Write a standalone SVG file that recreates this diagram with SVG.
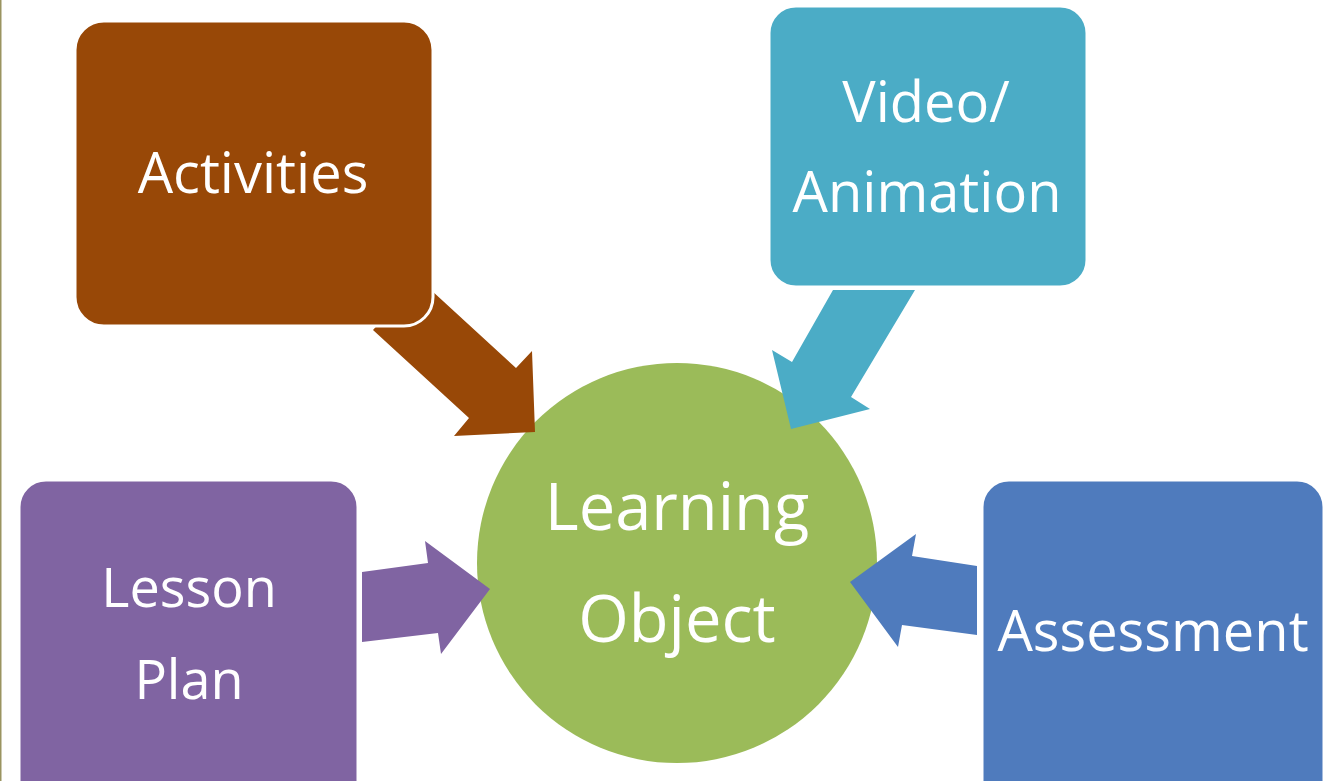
<svg xmlns="http://www.w3.org/2000/svg" width="1332" height="781" viewBox="0 0 1332 781">
<style>
.lbl{font-family:"Open Sans","Liberation Sans",sans-serif;fill:#ffffff;text-anchor:middle;}
.box{stroke:#ffffff;stroke-width:3;}
</style>
<rect x="0" y="0" width="1332" height="781" fill="#ffffff"/>
<rect x="0" y="0" width="1.5" height="781" fill="#9a9460"/>
<g id="node-learning">
<circle cx="677" cy="563" r="200" fill="#9BBB59"/>
<text class="lbl" x="677" y="530" font-size="65">Learning</text>
<text class="lbl" x="677" y="642" font-size="65">Object</text>
</g>
<g id="connectors">
<polygon fill="#984807" points="419,279 516,368 532,351 535,432 454,436 469,418 373,330"/>
<polygon fill="#4BACC6" points="833,290 915,290 851,397 870,409 791,429 772,350 792,362"/>
<polygon fill="#8064A2" points="362,572 428,563 425,541 490,589 441,654 438,633 362,642"/>
<polygon fill="#4F7BBD" points="977,566 912,556 916,534 850,582 898,647 902,625 977,635"/>
</g>
<g id="node-activities">
<rect class="box" x="75" y="21" width="358" height="305" rx="29" fill="#984807"/>
<text class="lbl" x="253" y="193" font-size="56">Activities</text>
</g>
<g id="node-video">
<rect class="box" x="769" y="6" width="318" height="281" rx="27" fill="#4BACC6"/>
<text class="lbl" x="926" y="122" font-size="56">Video/</text>
<text class="lbl" x="927" y="212" font-size="56">Animation</text>
</g>
<g id="node-lesson">
<rect class="box" x="19" y="480" width="339" height="332" rx="27" fill="#8064A2"/>
<text class="lbl" x="189" y="607" font-size="54">Lesson</text>
<text class="lbl" x="189" y="699" font-size="54">Plan</text>
</g>
<g id="node-assessment">
<rect class="box" x="982" y="480" width="342" height="332" rx="27" fill="#4F7BBD"/>
<text class="lbl" x="1153" y="651" font-size="56">Assessment</text>
</g>
</svg>
